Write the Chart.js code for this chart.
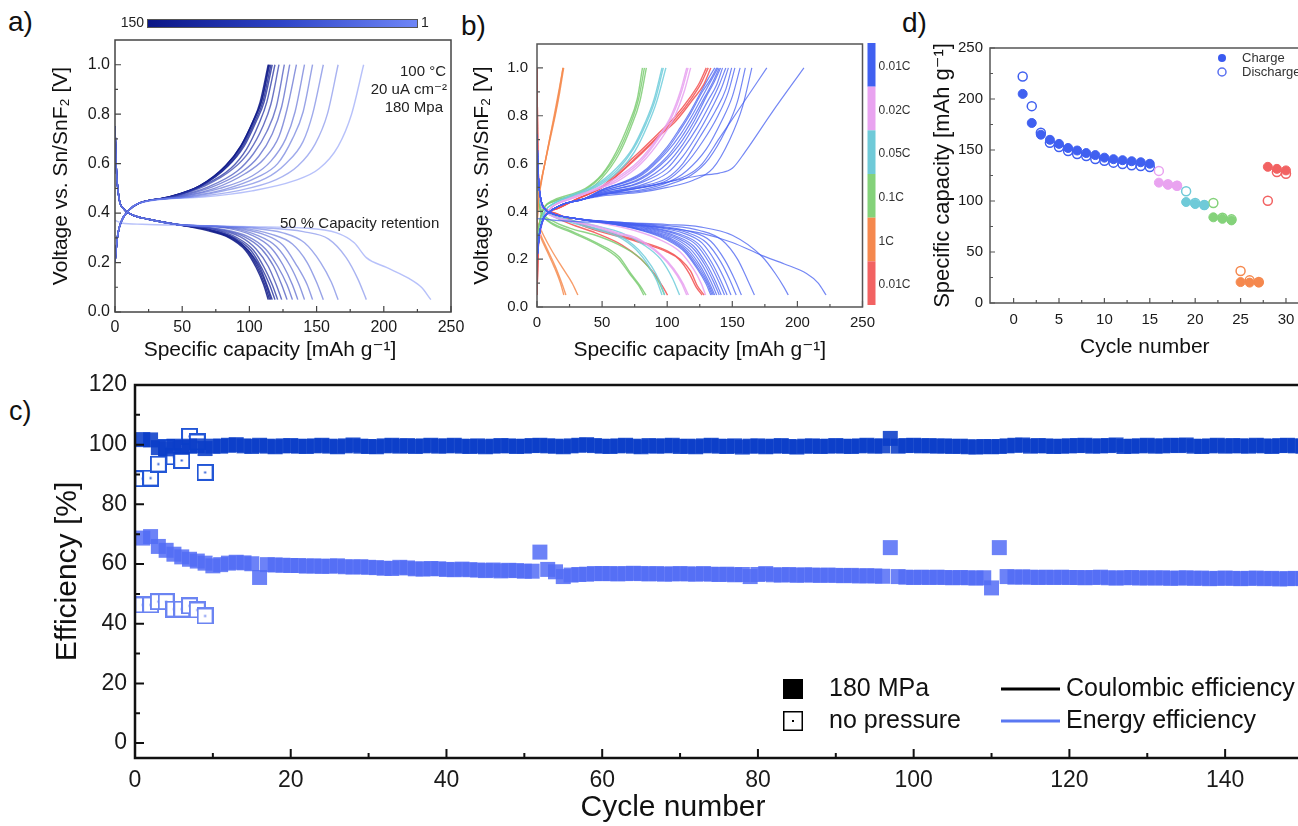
<!DOCTYPE html>
<html>
<head>
<meta charset="utf-8">
<title>Sn/SnF2 cell cycling</title>
<script src="https://cdn.jsdelivr.net/npm/chart.js"></script>
<style>
html, body { margin:0; padding:0; background:#fff; width:1298px; height:826px; overflow:hidden; position:relative; }
canvas { position:absolute; }
.panel { position:absolute; font-family:'Liberation Sans', Arial, sans-serif; color:#111; line-height:1; }
</style>
</head>
<body>
<div class="panel" style="left:8px;top:8px;font-size:28px">a)</div>
<div class="panel" style="left:461px;top:12px;font-size:28px">b)</div>
<div class="panel" style="left:902px;top:9px;font-size:28px">d)</div>
<div class="panel" style="left:9px;top:398px;font-size:27px">c)</div>
<canvas id="chartA" width="476" height="370" style="left:0;top:0"></canvas>
<canvas id="chartB" width="450" height="370" style="left:460px;top:0"></canvas>
<canvas id="chartD" width="420" height="370" style="left:900px;top:0"></canvas>
<canvas id="chartC" width="1310" height="456" style="left:0;top:370px"></canvas>
<script>
const FONT = "'Liberation Sans', 'DejaVu Sans', Arial, sans-serif";

/* ================= a) voltage profiles, 180 MPa, cycles 1..150 ================= */
const aChargeCycles = [1,2,3,4,5,7,10,15,25,40,60,80,100,125,150];
const aChargeStart = [[0,0.2],[2,0.31],[5,0.37],[10,0.41],[18,0.44]];
const aChargeTails = [
  [[65,.465],[102,.49],[133,.53],[152,.58],[166,.67],[176,.8],[185,1]],
  [[58,.465],[91,.49],[120,.535],[136,.59],[149,.68],[158,.8],[166,1]],
  [[54,.465],[85,.495],[112,.54],[127,.6],[140,.69],[147,.8],[155,1]],
  [[51,.465],[81,.495],[106,.545],[121,.6],[132,.7],[140,.81],[147,1]],
  [[49,.465],[78,.5],[102,.55],[116,.61],[127,.7],[134,.81],[141,1]],
  [[47,.465],[74,.5],[97,.56],[111,.62],[122,.71],[128,.82],[135,1]],
  [[46,.465],[72,.505],[94,.565],[107,.63],[117,.72],[124,.83],[130,1]],
  [[44,.465],[69,.505],[91,.57],[103,.64],[113,.73],[120,.83],[126,1]],
  [[43,.465],[67,.51],[88,.58],[100,.65],[110,.75],[116,.84],[122,1]],
  [[42,.465],[65,.51],[86,.58],[98,.66],[107,.76],[113,.85],[119,1]],
  [[41,.465],[64,.51],[84,.59],[96,.67],[105,.77],[111,.85],[117,1]],
  [[41,.465],[64,.51],[84,.59],[95,.67],[104,.77],[110,.85],[116,1]],
  [[40,.465],[63,.51],[83,.59],[94,.67],[103,.77],[109,.85],[115,1]],
  [[40,.465],[63,.51],[83,.595],[94,.675],[103,.775],[109,.855],[114.5,1]],
  [[40,.465],[63,.51],[82,.59],[93.5,.67],[102.6,.77],[108,.85],[114,1]]
];
const aDischargeCycles = [1,2,3,4,5,6,8,10,15,25,40,60,80,100,125,150];
const aDischargeFirst = [[0,.37],[5,.36],[20,.355],[60,.35],[100,.345],[140,.34],[165,.32],[178,.28],[187,.22],[202,.18],[219,.135],[228,.1],[235,.05]];
const aDischargeStart = [[0,.75],[1,.58],[3,.46],[6,.42],[12,.395],[25,.375],[45,.355]];
const aDischargeTails = [
  [[112,.34],[140,.325],[159,.295],[172,.22],[181,.13],[187,.05]],
  [[100,.34],[125,.32],[141,.28],[153,.2],[161,.12],[166,.05]],
  [[93,.34],[116,.315],[132,.275],[143,.2],[150,.12],[155,.05]],
  [[88,.34],[110,.315],[125,.27],[135,.19],[143,.11],[147,.05]],
  [[85,.34],[106,.31],[120,.265],[130,.19],[137,.11],[141,.05]],
  [[82,.34],[102,.31],[116,.26],[125,.19],[132,.11],[136,.05]],
  [[79,.335],[99,.305],[112,.255],[121,.185],[128,.11],[132,.05]],
  [[77,.335],[96,.305],[109,.255],[118,.185],[124,.11],[128,.05]],
  [[74,.335],[93,.305],[105,.255],[114,.185],[120,.11],[124,.05]],
  [[73,.335],[91,.3],[103,.25],[111,.18],[117,.11],[121,.05]],
  [[71,.333],[89,.3],[101,.25],[109,.18],[115,.11],[119,.05]],
  [[70,.333],[88,.3],[99,.25],[108,.18],[113,.11],[117,.05]],
  [[70,.333],[87,.3],[99,.25],[107,.18],[112.5,.11],[116,.05]],
  [[69,.333],[86,.3],[98,.25],[106,.18],[111.5,.11],[115,.05]],
  [[68,.33],[85,.3],[97,.25],[105,.18],[110.6,.11],[114,.05]]
];
const aXTicks = [0,50,100,150,200,250];
const aXTickLabels = ['0','50','100','150','200','250'];
const aYTicks = [0,0.2,0.4,0.6,0.8,1.0];
const aYTickLabels = ['0.0','0.2','0.4','0.6','0.8','1.0'];
const aColorbarLabels = ['150','1'];

/* ================= b) rate test voltage profiles ================= */
const bRates = ['0.01C','0.02C','0.05C','0.1C','1C',"0.01C'"];
const bChargeStart = [[0,0.2],[2,0.31],[5,0.37],[10,0.40],[20,0.43],[35,0.45]];
const bBlueChargeTails = [
  [[50,.47],[90,.51],[125,.55],[140,.56],[150,.58],[160,.65],[180,.81],[205,1]],
  [[50,.47],[90,.51],[115,.55],[127,.6],[140,.705],[155,.826],[176.5,1]],
  [[50,.465],[80,.48],[100,.5],[120,.53],[135,.58],[148,.7],[158,.84],[165,1]],
  [[50,.47],[80,.485],[100,.51],[118,.55],[132,.62],[145,.74],[154,.86],[160,1]],
  [[50,.47],[80,.49],[100,.52],[115,.57],[130,.66],[142,.78],[150,.88],[156,1]],
  [[50,.47],[80,.5],[100,.53],[113,.59],[127,.69],[139,.8],[147,.9],[152,1]],
  [[50,.475],[80,.505],[100,.54],[112,.6],[125,.71],[137,.82],[145,.91],[149.5,1]],
  [[50,.475],[80,.51],[100,.56],[112,.63],[124,.73],[135,.84],[142,.92],[147,1]],
  [[50,.48],[80,.52],[100,.58],[112,.66],[123,.75],[133,.85],[140,.93],[145,1]],
  [[50,.48],[80,.525],[100,.6],[112,.68],[122,.77],[131,.86],[138,.93],[142.5,1]],
  [[50,.485],[80,.535],[100,.62],[112,.7],[121,.78],[130,.88],[136,.94],[141,1]],
  [[50,.485],[80,.54],[100,.63],[111,.71],[120,.79],[129,.88],[135,.94],[140,1]],
  [[50,.49],[80,.55],[100,.65],[110,.72],[119,.8],[128,.89],[134,.95],[139,1]],
  [[50,.49],[80,.555],[100,.66],[110,.74],[118,.81],[127,.9],[133,.95],[138,1]],
  [[50,.49],[80,.56],[100,.67],[110,.75],[118,.82],[126,.9],[131,.95],[136.5,1]]
];
const bOtherChargeRate = [1,1,1,2,2,2,3,3,3,4,4,4,5,5,5];
const bOtherCharge = [
  [[0,.22],[3,.33],[6,.38],[12,.42],[25,.45],[45,.49],[63,.53],[80,.6],[95,.7],[106,.8],[113,.9],[118,1]],
  [[0,.22],[3,.33],[6,.38],[12,.42],[25,.45],[45,.49],[62,.535],[79,.605],[94,.71],[104,.8],[111,.9],[116,1]],
  [[0,.22],[3,.33],[6,.38],[12,.42],[25,.455],[45,.495],[61,.54],[78,.61],[93,.71],[103,.8],[110,.9],[115,1]],
  [[0,.25],[3,.35],[6,.4],[12,.43],[25,.46],[45,.5],[63,.57],[75,.65],[85,.76],[92,.86],[99,1]],
  [[0,.25],[3,.35],[6,.4],[12,.43],[25,.46],[45,.505],[62,.575],[74,.66],[84,.77],[91,.87],[97,1]],
  [[0,.25],[3,.35],[6,.4],[12,.43],[25,.465],[45,.51],[61,.58],[73,.66],[83,.77],[90,.87],[96,1]],
  [[0,.28],[3,.38],[6,.42],[12,.44],[25,.46],[37,.48],[50,.54],[63,.64],[72,.75],[79,.86],[84,1]],
  [[0,.28],[3,.38],[6,.42],[12,.44],[25,.465],[37,.49],[50,.55],[62,.645],[71,.755],[78,.87],[82.5,1]],
  [[0,.28],[3,.38],[6,.42],[12,.445],[25,.47],[37,.495],[50,.555],[61,.65],[70,.76],[77,.87],[81,1]],
  [[0,.35],[1,.45],[3,.52],[6,.6],[10,.7],[14,.8],[17.5,.9],[20.5,1]],
  [[0,.34],[1,.44],[3,.52],[6,.6],[10,.71],[14,.81],[17,.9],[20,1]],
  [[0,.33],[1,.44],[3,.51],[6,.6],[10,.71],[13.5,.81],[17,.91],[20,1]],
  [[0,.05],[1,.25],[3,.34],[7,.39],[15,.41],[30,.45],[50,.5],[76,.62],[95,.72],[107,.78],[120,.87],[128,.93],[133.5,1]],
  [[0,.05],[1,.25],[3,.34],[7,.39],[15,.41],[30,.45],[50,.5],[75,.62],[94,.72],[106,.785],[119,.875],[126,.935],[131.5,1]],
  [[0,.05],[1,.25],[3,.34],[7,.39],[15,.41],[30,.45],[50,.505],[74,.625],[93,.725],[105,.79],[118,.88],[125,.94],[130,1]]
];
const bBlueDischargeFirst = [[0,.37],[20,.36],[60,.35],[100,.33],[125,.31],[150,.27],[173,.215],[190,.18],[207,.14],[216,.1],[222,.05]];
const bDischargeStart = [[0,.72],[1,.55],[3,.45],[6,.41],[12,.39],[30,.37]];
const bBlueDischargeTails = [
  [[60,.355],[100,.345],[125,.335],[150,.3],[173,.21],[183,.14],[190,.08],[193,.05]],
  [[75,.35],[100,.34],[125,.32],[142,.28],[154,.2],[162,.11],[167,.05]],
  [[71,.35],[94,.338],[118,.315],[133.5,.275],[144.4,.195],[152.3,.11],[157,.05]],
  [[69,.349],[92,.336],[115,.312],[130,.27],[141,.19],[148.4,.11],[153,.05]],
  [[67,.349],[89.4,.335],[111.8,.31],[126.7,.268],[137,.19],[144.5,.11],[149,.05]],
  [[65.7,.348],[87.6,.333],[109.5,.305],[124.1,.263],[134.3,.185],[141.6,.105],[146,.05]],
  [[64.8,.348],[86.4,.331],[108,.302],[122.4,.26],[132.5,.183],[139.7,.105],[144,.05]],
  [[63.7,.347],[84.9,.33],[106.1,.298],[120.3,.255],[130.2,.18],[137.3,.105],[141.5,.05]],
  [[63,.347],[84,.328],[105,.295],[119,.25],[128.8,.178],[135.8,.103],[140,.05]],
  [[62.1,.346],[82.8,.326],[103.5,.292],[117.3,.245],[127,.175],[133.9,.102],[138,.05]],
  [[61.4,.346],[81.9,.324],[102.4,.288],[116,.24],[125.6,.17],[132.4,.1],[136.5,.05]],
  [[61,.345],[81.3,.322],[101.6,.285],[115.2,.235],[124.7,.165],[131.4,.1],[135.5,.05]],
  [[60.5,.345],[80.7,.321],[100.9,.282],[114.3,.232],[123.7,.162],[130.5,.1],[134.5,.05]],
  [[60,.345],[80,.32],[100,.28],[113.5,.23],[123,.16],[129.5,.1],[133.5,.05]]
];
const bOtherDischargeRate = [1,1,1,2,2,2,3,3,3,4,4,4,5,5,5];
const bOtherDischarge = [
  [[0,.72],[1,.55],[3,.45],[6,.41],[12,.39],[30,.37],[50,.35],[75,.32],[95,.28],[110,.23],[120,.16],[126,.1],[129.5,.05]],
  [[0,.7],[1,.54],[3,.44],[6,.4],[12,.38],[25,.36],[45,.34],[62,.31],[76,.29],[95,.22],[105,.16],[112,.1],[116.3,.05]],
  [[0,.7],[1,.54],[3,.44],[6,.4],[12,.38],[25,.36],[45,.335],[62,.305],[76,.285],[94,.22],[104,.16],[111,.1],[115,.05]],
  [[0,.62],[2,.46],[5,.41],[10,.39],[25,.365],[45,.34],[65,.31],[82,.26],[95,.2],[104,.12],[109.5,.05]],
  [[0,.6],[2,.45],[5,.41],[10,.39],[25,.36],[45,.33],[63,.3],[78,.24],[88,.17],[94,.11],[98,.05]],
  [[0,.6],[2,.45],[5,.41],[10,.385],[25,.355],[45,.325],[62,.295],[76,.24],[86,.17],[92,.11],[96,.05]],
  [[0,.58],[2,.44],[5,.39],[12,.36],[25,.33],[45,.3],[63,.26],[78,.21],[88,.15],[94,.1],[98,.05]],
  [[0,.55],[2,.42],[5,.38],[12,.35],[25,.32],[45,.27],[63,.21],[72,.14],[79,.09],[83.7,.05]],
  [[0,.55],[2,.42],[5,.38],[12,.345],[25,.315],[45,.265],[62,.205],[71,.14],[78,.09],[82,.05]],
  [[0,.36],[5,.3],[12,.23],[20,.16],[27,.1],[31.4,.05]],
  [[0,.35],[3,.3],[8,.24],[14,.17],[19,.1],[22.2,.05]],
  [[0,.34],[3,.29],[8,.23],[13,.17],[18,.1],[20.6,.05]],
  [[0,1],[0.5,.7],[1.5,.5],[4,.43],[8,.4],[20,.36],[45,.31],[65,.26],[80,.2],[90,.14],[96,.09],[100.3,.05]],
  [[0,1],[0.5,.7],[1.5,.5],[4,.43],[8,.405],[15,.39],[40,.335],[76,.28],[100,.235],[110,.2],[118,.15],[123,.09],[128.4,.05]],
  [[0,1],[0.5,.7],[1.5,.5],[4,.43],[8,.405],[15,.39],[40,.33],[76,.275],[100,.23],[109,.2],[117,.14],[122,.085],[126.8,.05]]
];
const bXTicks = [0,50,100,150,200,250];
const bXTickLabels = ['0','50','100','150','200','250'];
const bYTicks = [0,0.2,0.4,0.6,0.8,1.0];
const bYTickLabels = ['0.0','0.2','0.4','0.6','0.8','1.0'];

/* ================= d) capacity vs cycle ================= */
const dCycles = [1,2,3,4,5,6,7,8,9,10,11,12,13,14,15,16,17,18,19,20,21,22,23,24,25,26,27,28,29,30];
const dCharge = [205,176.5,165,160,156,152,149.5,147,145,142.5,141,140,139,138,136.5,118,116,115,99,97,96,84,82.5,81,20.5,20,20,133.5,131.5,130];
const dDischarge = [222,193,167,157,153,149,146,144,141.2,139.5,137.6,136.3,135,134.3,133.3,129.5,116.3,115,109.5,98,96,98,83.7,82,31.4,22.2,20.6,100.3,128.4,126.8];
const dRateIndex = [0,0,0,0,0,0,0,0,0,0,0,0,0,0,0,1,1,1,2,2,2,3,3,3,4,4,4,5,5,5];
const dXTicks = [0,5,10,15,20,25,30];
const dXTickLabels = ['0','5','10','15','20','25','30'];
const dYTicks = [0,50,100,150,200,250];
const dYTickLabels = ['0','50','100','150','200','250'];
const dLegend = ['Charge','Discharge'];

/* ================= c) efficiencies ================= */
const cCE180 = [
  101.7,101.6,99.0,98.6,99.5,99.1,99.5,99.6,98.7,99.5,
  99.5,99.8,100.0,99.6,99.4,99.8,99.5,99.3,99.6,99.7,
  99.5,99.4,99.6,99.8,99.5,99.3,99.6,99.9,99.5,99.4,
  99.3,99.6,99.8,99.5,99.7,99.4,99.6,99.8,99.5,99.6,
  99.8,99.5,99.4,99.6,99.3,99.5,99.7,99.6,99.4,99.5,
  99.7,99.8,99.6,99.5,99.3,99.6,99.8,100.0,99.7,99.5,
  99.4,99.6,99.8,99.5,99.3,99.7,99.5,99.6,99.8,99.4,
  99.5,99.3,99.6,99.8,99.5,99.4,99.6,99.2,99.5,99.6,
  99.3,99.5,99.7,99.4,99.2,99.5,99.6,99.4,99.5,99.7,
  99.5,99.4,99.6,99.8,99.5,99.6,102.1,99.5,99.7,99.8,
  99.6,99.7,99.5,99.6,99.4,99.5,99.3,99.2,99.4,99.3,
  99.4,99.6,99.8,99.9,99.5,99.7,99.6,99.4,99.5,99.6,
  99.7,99.8,99.5,99.6,99.7,99.9,99.4,99.5,99.6,99.8,
  99.5,99.6,99.8,99.7,99.9,99.5,99.4,99.6,99.8,99.5,
  99.7,99.6,99.5,99.8,99.6,99.4,99.7,99.8,99.6,99.5
];
const cEE180 = [
  68.7,69.2,65.9,64.6,63.3,62.4,61.6,61.0,60.3,59.4,
  59.8,60.3,60.6,60.4,60.1,55.5,59.8,59.7,59.6,59.5,
  59.5,59.3,59.4,59.2,59.3,59.4,59.1,59.0,59.1,58.9,
  58.8,58.6,58.5,58.9,58.7,58.4,58.3,58.5,58.4,58.2,
  58.1,58.3,58.1,58.0,57.8,58.0,57.7,57.9,57.8,57.6,
  57.6,64.0,58.2,57.4,55.8,56.3,56.5,56.6,56.8,56.8,
  56.8,56.7,56.8,56.9,56.8,56.7,56.8,56.6,56.7,56.8,
  56.7,56.6,56.8,56.6,56.5,56.6,56.4,56.5,55.8,56.5,
  56.8,56.4,56.3,56.5,56.2,56.4,56.3,56.2,56.3,56.2,
  56.1,56.2,56.0,56.1,56.0,55.9,65.5,55.8,55.6,55.5,
  55.6,55.5,55.6,55.5,55.4,55.5,55.4,55.3,55.4,52.0,
  65.5,55.8,55.6,55.7,55.6,55.5,55.6,55.5,55.6,55.5,
  55.5,55.4,55.5,55.6,55.4,55.3,55.4,55.5,55.3,55.4,
  55.3,55.4,55.2,55.3,55.4,55.2,55.3,55.1,55.2,55.3,
  55.2,55.1,55.2,55.3,55.1,55.2,55.0,55.1,55.2,55.1
];
const cCENoPressure = [88.6,88.8,93.5,98.9,95.9,94.7,102.8,100.9,90.7];
const cEENoPressure = [46.3,46.3,47.4,47.4,44.9,44.9,46.0,44.6,42.6];
const cXTicks = [0,20,40,60,80,100,120,140];
const cXTickLabels = ['0','20','40','60','80','100','120','140'];
const cYTicks = [0,20,40,60,80,100,120];
const cYTickLabels = ['0','20','40','60','80','100','120'];
const cLegendMarkers = ['180 MPa','no pressure'];
const cLegendLines = ['Coulombic efficiency','Energy efficiency'];

/* ================= styling helpers ================= */
const RATE_COLORS = ['rgba(70,95,240,0.75)','rgba(232,160,240,0.85)','rgba(110,204,218,0.85)','rgba(125,205,115,0.85)','rgba(246,140,80,0.85)','rgba(242,80,80,0.85)'];
const RATE_SOLID = ['#4060f0','#e9a3f0','#6fcad8','#84d27a','#f5884e','#f26262'];

function pts(arr) { return arr.map(p => ({x:p[0], y:p[1]})); }
function curve(arr, color, width) {
  return { data: pts(arr), showLine:true, borderColor:color, borderWidth:width, pointRadius:0,
           pointHoverRadius:0, cubicInterpolationMode:'monotone', fill:false };
}
function aColor(cycle) {
  const t = Math.log(cycle) / Math.log(150);
  const c0 = [112,132,246], c1 = [12,22,132];
  const c = c0.map((v,i) => Math.round(v + (c1[i]-v)*t));
  return 'rgba(' + c.join(',') + ',' + (0.5 + 0.35*t).toFixed(2) + ')';
}
function scaleCfg(o) {
  return {
    type:'linear', min:o.min, max:o.max,
    afterBuildTicks: s => { s.ticks = o.ticks.map(v => ({value:v})); },
    afterFit: s => {
      if (o.axis === 'x') { s.height = o.size; s.paddingLeft = 0; s.paddingRight = 0; }
      else { s.width = o.size; s.paddingTop = 0; s.paddingBottom = 0; }
    },
    grid:{display:false, drawTicks:false},
    border:{display:false},
    ticks:{autoSkip:false, maxRotation:0, minRotation:0, padding:o.pad, color:'#1a1a1a',
           font:{family:FONT, size:o.font}, callback:(v,i) => o.labels[i]},
    title: o.title ? {display:true, text:o.title, color:'#111', font:{family:FONT, size:o.titleSize}, padding:o.titlePad}
                   : {display:false}
  };
}
function boxPlugin(cfg) {
  return { id:'box', afterDraw(chart) {
    const ctx = chart.ctx, a = chart.chartArea, xs = chart.scales.x, ys = chart.scales.y;
    ctx.save();
    ctx.strokeStyle = cfg.color;
    ctx.lineWidth = cfg.tickWidth;
    ctx.beginPath();
    cfg.xMajor.forEach(v => { const p = xs.getPixelForValue(v); ctx.moveTo(p, a.bottom); ctx.lineTo(p, a.bottom - cfg.major); });
    cfg.xMinor.forEach(v => { const p = xs.getPixelForValue(v); ctx.moveTo(p, a.bottom); ctx.lineTo(p, a.bottom - cfg.minor); });
    cfg.yMajor.forEach(v => { const p = ys.getPixelForValue(v); ctx.moveTo(a.left, p); ctx.lineTo(a.left + cfg.major, p); });
    cfg.yMinor.forEach(v => { const p = ys.getPixelForValue(v); ctx.moveTo(a.left, p); ctx.lineTo(a.left + cfg.minor, p); });
    ctx.stroke();
    ctx.lineWidth = cfg.frameWidth;
    ctx.strokeRect(a.left, a.top, a.right - a.left, a.bottom - a.top);
    ctx.restore();
  }};
}
function textPlugin(items) {
  return { id:'texts', afterDraw(chart) {
    const ctx = chart.ctx;
    items.forEach(t => {
      ctx.save();
      ctx.font = t.font; ctx.fillStyle = t.color || '#222';
      ctx.textAlign = t.align || 'left'; ctx.textBaseline = 'middle';
      ctx.fillText(t.text, t.x, t.y);
      ctx.restore();
    });
  }};
}
function extraPlugin(fn) { return { id:'extra', afterDraw(chart) { fn(chart, chart.ctx); } }; }
const baseOptions = (padding) => ({
  responsive:false, animation:false, events:[],
  layout:{padding, autoPadding:false},
  plugins:{legend:{display:false}, tooltip:{enabled:false}}
});
function range(a, b, s) { const r = []; for (let v = a; v <= b + 1e-9; v += s) r.push(+v.toFixed(4)); return r; }

/* ================= chart a ================= */
(function() {
  const ds = [];
  aChargeTails.forEach((tail, i) => ds.push(curve(aChargeStart.concat(tail), aColor(aChargeCycles[i]), 1.4)));
  ds.push(curve(aDischargeFirst, aColor(aDischargeCycles[0]), 1.4));
  aDischargeTails.forEach((tail, i) => ds.push(curve(aDischargeStart.concat(tail), aColor(aDischargeCycles[i+1]), 1.4)));
  const opts = baseOptions({left:0, right:25, top:40, bottom:0});
  opts.scales = {
    x: scaleCfg({axis:'x', min:0, max:250, ticks:aXTicks, labels:aXTickLabels, font:16, pad:6, size:58}),
    y: scaleCfg({axis:'y', min:0, max:1.1, ticks:aYTicks, labels:aYTickLabels, font:16, pad:5, size:115,
                 title:'Voltage vs. Sn/SnF\u2082 [V]', titleSize:21, titlePad:{top:49, bottom:0}})
  };
  new Chart(document.getElementById('chartA'), {
    type:'scatter', data:{datasets:ds}, options:opts,
    plugins:[
      boxPlugin({color:'#444', frameWidth:1.5, tickWidth:1.2, major:6, minor:3,
                 xMajor:aXTicks, xMinor:range(25,225,50), yMajor:aYTicks, yMinor:range(0.1,0.9,0.2)}),
      textPlugin([
        {text:'100 \u00B0C', x:446, y:72, align:'right', font:'15px ' + FONT},
        {text:'20 uA cm\u207B\u00B2', x:447, y:90, align:'right', font:'15px ' + FONT},
        {text:'180 Mpa', x:443, y:108, align:'right', font:'15px ' + FONT},
        {text:'50 % Capacity retention', x:280, y:224, align:'left', font:'15px ' + FONT},
        {text:'Specific capacity [mAh g\u207B\u00B9]', x:270, y:350, align:'center', font:'21px ' + FONT, color:'#111'}
      ]),
      extraPlugin((chart, ctx) => {
        const x0 = 147, x1 = 418, y0 = 19, h = 9;
        const g = ctx.createLinearGradient(x0, 0, x1, 0);
        g.addColorStop(0, '#0b1685'); g.addColorStop(0.5, '#2f45c8'); g.addColorStop(1, '#6f86f7');
        ctx.save();
        ctx.fillStyle = g; ctx.fillRect(x0, y0, x1 - x0, h);
        ctx.strokeStyle = '#555'; ctx.lineWidth = 1; ctx.strokeRect(x0 + .5, y0 + .5, x1 - x0 - 1, h - 1);
        ctx.font = '14px ' + FONT; ctx.fillStyle = '#222'; ctx.textBaseline = 'middle';
        ctx.textAlign = 'right'; ctx.fillText(aColorbarLabels[0], x0 - 3, y0 + h/2);
        ctx.textAlign = 'left'; ctx.fillText(aColorbarLabels[1], x1 + 3, y0 + h/2);
        ctx.restore();
      })
    ]
  });
})();

/* ================= chart b ================= */
(function() {
  const ds = [];
  bBlueChargeTails.forEach(tail => ds.push(curve(bChargeStart.concat(tail), RATE_COLORS[0], 1.2)));
  ds.push(curve(bBlueDischargeFirst, RATE_COLORS[0], 1.2));
  bBlueDischargeTails.forEach(tail => ds.push(curve(bDischargeStart.concat(tail), RATE_COLORS[0], 1.2)));
  bOtherCharge.forEach((c, i) => ds.push(curve(c, RATE_COLORS[bOtherChargeRate[i]], 1.4)));
  bOtherDischarge.forEach((c, i) => ds.push(curve(c, RATE_COLORS[bOtherDischargeRate[i]], 1.4)));
  const opts = baseOptions({left:0, right:47.5, top:44, bottom:0});
  opts.scales = {
    x: scaleCfg({axis:'x', min:0, max:250, ticks:bXTicks, labels:bXTickLabels, font:15, pad:7, size:63,
                 title:'Specific capacity [mAh g\u207B\u00B9]', titleSize:21, titlePad:{top:0, bottom:7}}),
    y: scaleCfg({axis:'y', min:0, max:1.1, ticks:bYTicks, labels:bYTickLabels, font:15, pad:9, size:77,
                 title:'Voltage vs. Sn/SnF\u2082 [V]', titleSize:21, titlePad:{top:10, bottom:0}})
  };
  new Chart(document.getElementById('chartB'), {
    type:'scatter', data:{datasets:ds}, options:opts,
    plugins:[
      boxPlugin({color:'#555', frameWidth:1.5, tickWidth:1.2, major:6, minor:3,
                 xMajor:bXTicks, xMinor:range(25,225,50), yMajor:bYTicks, yMinor:range(0.1,0.9,0.2)}),
      extraPlugin((chart, ctx) => {
        const a = chart.chartArea;
        const x0 = a.right + 5, w = 8, top = a.top - 1, bottom = a.bottom - 2;
        const seg = (bottom - top) / bRates.length;
        ctx.save();
        ctx.font = '12px ' + FONT; ctx.fillStyle = '#333'; ctx.textBaseline = 'middle'; ctx.textAlign = 'left';
        bRates.forEach((r, i) => {
          ctx.fillStyle = RATE_SOLID[i];
          ctx.fillRect(x0, top + i*seg, w, seg);
          ctx.fillStyle = '#333';
          ctx.fillText(r, x0 + w + 3, top + (i + 0.5)*seg + 2);
        });
        ctx.restore();
      })
    ]
  });
})();

/* ================= chart d ================= */
(function() {
  const chargePts = dCycles.map((c, i) => ({x:c, y:dCharge[i]}));
  const dischargePts = dCycles.map((c, i) => ({x:c, y:dDischarge[i]}));
  const colors = dRateIndex.map(r => RATE_SOLID[r]);
  const ds = [
    {label:dLegend[0], data:chargePts, pointRadius:4.5, pointStyle:'circle', pointBackgroundColor:colors, pointBorderColor:colors, pointBorderWidth:1, showLine:false},
    {label:dLegend[1], data:dischargePts, pointRadius:4.5, pointStyle:'circle', pointBackgroundColor:'rgba(255,255,255,0)', pointBorderColor:colors, pointBorderWidth:1.5, showLine:false}
  ];
  const opts = baseOptions({left:0, right:20.4, top:48, bottom:0});
  opts.scales = {
    x: scaleCfg({axis:'x', min:-2.6, max:31.5, ticks:dXTicks, labels:dXTickLabels, font:15, pad:8, size:67,
                 title:'Cycle number', titleSize:21, titlePad:{top:0, bottom:10}}),
    y: scaleCfg({axis:'y', min:0, max:250, ticks:dYTicks, labels:dYTickLabels, font:15, pad:7, size:90,
                 title:'Specific capacity [mAh g\u207B\u00B9]', titleSize:22, titlePad:{top:30, bottom:0}})
  };
  new Chart(document.getElementById('chartD'), {
    type:'scatter', data:{datasets:ds}, options:opts,
    plugins:[
      boxPlugin({color:'#555', frameWidth:1.5, tickWidth:1.2, major:5, minor:3,
                 xMajor:dXTicks, xMinor:range(2.5,27.5,5), yMajor:dYTicks, yMinor:range(25,225,50)}),
      extraPlugin((chart, ctx) => {
        ctx.save();
        ctx.fillStyle = '#3a5af0';
        ctx.beginPath(); ctx.arc(322, 58, 4, 0, Math.PI*2); ctx.fill();
        ctx.strokeStyle = '#5a70f0'; ctx.lineWidth = 1.5;
        ctx.beginPath(); ctx.arc(322, 72, 4, 0, Math.PI*2); ctx.stroke();
        ctx.font = '13px ' + FONT; ctx.fillStyle = '#333'; ctx.textBaseline = 'middle'; ctx.textAlign = 'left';
        ctx.fillText(dLegend[0], 342, 58);
        ctx.fillText(dLegend[1], 342, 72);
        ctx.restore();
      })
    ]
  });
})();

/* ================= chart c ================= */
(function() {
  function openSquare(color, size) {
    const c = document.createElement('canvas'); c.width = size; c.height = size;
    const g = c.getContext('2d');
    g.fillStyle = '#fff'; g.fillRect(1, 1, size - 2, size - 2);
    g.strokeStyle = color; g.lineWidth = 2; g.strokeRect(1, 1, size - 2, size - 2);
    g.fillStyle = color; g.fillRect(size/2 - 1, size/2 - 1, 2, 2);
    return c;
  }
  const ce180 = cCE180.map((v, i) => ({x:i + 1, y:v}));
  const ee180 = cEE180.map((v, i) => ({x:i + 1, y:v}));
  const ceNP = cCENoPressure.map((v, i) => ({x:i + 1, y:v}));
  const eeNP = cEENoPressure.map((v, i) => ({x:i + 1, y:v}));
  const ds = [
    {data:ee180, pointStyle:'rect', pointRadius:10.6, pointBackgroundColor:'rgba(82,108,246,0.85)', pointBorderWidth:0, showLine:false},
    {data:ce180, pointStyle:'rect', pointRadius:10.6, pointBackgroundColor:'rgba(10,62,200,0.88)', pointBorderWidth:0, showLine:false},
    {data:ceNP, pointStyle:openSquare('#2256d6', 17), pointRadius:8, showLine:false},
    {data:eeNP, pointStyle:openSquare('#6b84f2', 17), pointRadius:8, showLine:false}
  ];
  const opts = baseOptions({left:0, right:7, top:15, bottom:0});
  opts.scales = {
    x: scaleCfg({axis:'x', min:0, max:150, ticks:cXTicks, labels:cXTickLabels, font:23, pad:9, size:68}),
    y: scaleCfg({axis:'y', min:-5, max:120, ticks:cYTicks, labels:cYTickLabels, font:23, pad:8, size:135,
                 title:'Efficiency [%]', titleSize:30, titlePad:{top:50, bottom:0}})
  };
  new Chart(document.getElementById('chartC'), {
    type:'scatter', data:{datasets:ds}, options:opts,
    plugins:[
      boxPlugin({color:'#111', frameWidth:2.5, tickWidth:2, major:9, minor:5,
                 xMajor:cXTicks, xMinor:range(10,150,20), yMajor:cYTicks, yMinor:range(10,110,20)}),
      textPlugin([
        {text:'Cycle number', x:673, y:438, align:'center', font:'30px ' + FONT, color:'#111'}
      ]),
      extraPlugin((chart, ctx) => {
        ctx.save();
        ctx.fillStyle = '#000';
        ctx.fillRect(783, 309, 20, 20);
        ctx.strokeStyle = '#000'; ctx.lineWidth = 1.5;
        ctx.fillStyle = '#fff'; ctx.fillRect(784, 342, 18, 18);
        ctx.strokeRect(783.75, 341.75, 18.5, 18.5);
        ctx.fillStyle = '#000'; ctx.fillRect(792, 350, 2, 2);
        ctx.lineWidth = 3;
        ctx.strokeStyle = '#000';
        ctx.beginPath(); ctx.moveTo(1001, 319); ctx.lineTo(1060, 319); ctx.stroke();
        ctx.strokeStyle = '#5a78f2';
        ctx.beginPath(); ctx.moveTo(1001, 351); ctx.lineTo(1060, 351); ctx.stroke();
        ctx.font = '25px ' + FONT; ctx.fillStyle = '#111'; ctx.textBaseline = 'middle'; ctx.textAlign = 'left';
        ctx.fillText(cLegendMarkers[0], 829, 319);
        ctx.fillText(cLegendMarkers[1], 829, 351);
        ctx.fillText(cLegendLines[0], 1066, 319);
        ctx.fillText(cLegendLines[1], 1066, 351);
        ctx.restore();
      })
    ]
  });
})();
</script>
</body>
</html>
